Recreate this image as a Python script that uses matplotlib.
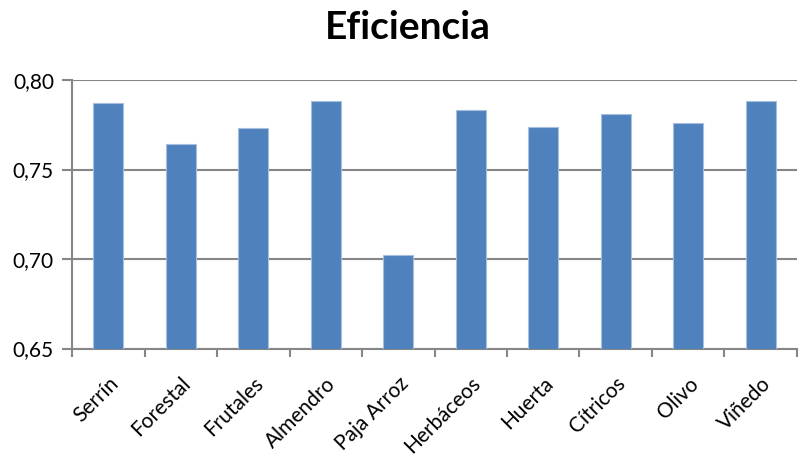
import matplotlib
matplotlib.use("Agg")
import matplotlib.pyplot as plt
import numpy as np

categories = ["Serrín", "Forestal", "Frutales", "Almendro", "Paja Arroz",
              "Herbáceos", "Huerta", "Cítricos", "Olivo", "Viñedo"]
eficiencia = [0.787, 0.764, 0.773, 0.788, 0.702,
              0.783, 0.774, 0.781, 0.776, 0.788]
y_ticks = [0.65, 0.70, 0.75, 0.80]
y_tick_labels = ["0,65", "0,70", "0,75", "0,80"]

plt.rcParams["font.family"] = ["Lato", "DejaVu Sans"]

fig = plt.figure(figsize=(8.03, 4.57), dpi=100)
ax = fig.add_axes([0.0897, 0.2374, 0.9028, 0.5875])

x = np.arange(len(categories))
ax.bar(x, eficiencia, width=0.41, color="#4F81BD", edgecolor="#A7BFDE",
       linewidth=0.8, zorder=3)

ax.set_ylim(0.65, 0.80)
ax.set_xlim(-0.5, len(categories) - 0.5)
ax.set_yticks(y_ticks)
ax.set_yticklabels(y_tick_labels, fontsize=15)
ax.yaxis.grid(True, color="#868686", linewidth=1.5, zorder=1)

ax.set_xticks(x)
ax.set_xticklabels(categories, rotation=45, ha="right", va="top",
                   rotation_mode="anchor", fontsize=15)
ax.tick_params(axis="x", length=0, pad=18)
ax.set_xticks(np.arange(-0.5, len(categories) - 0.4, 1.0), minor=True)
ax.tick_params(axis="x", which="minor", length=6, width=1.5, color="#868686")
ax.tick_params(axis="y", length=7, width=1.5, color="#868686", pad=6)

for side in ["top", "right"]:
    ax.spines[side].set_visible(False)
for side in ["left", "bottom"]:
    ax.spines[side].set_color("#868686")
    ax.spines[side].set_linewidth(1.5)

fig.text(0.508, 0.94, "Eficiencia", ha="center", va="center",
         fontsize=28, fontweight="bold")

fig.savefig("out.png", dpi=100)
